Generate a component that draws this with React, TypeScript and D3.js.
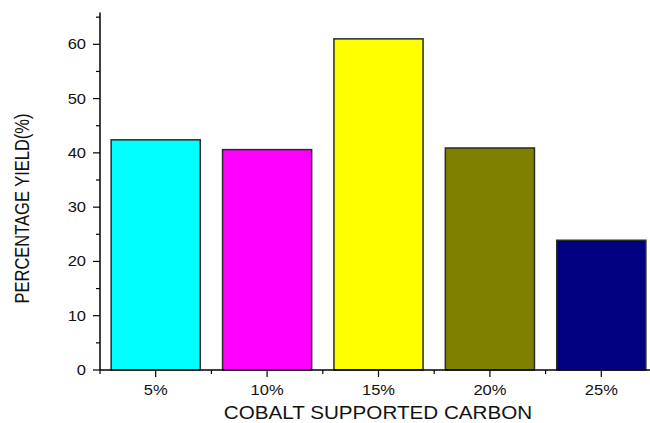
import React from "react";
import * as d3 from "d3";

const categories = ["5%", "10%", "15%", "20%", "25%"];
const values = [42.4, 40.6, 61.0, 40.9, 23.9];
const colors = ["#00FFFF", "#FF00FF", "#FFFF00", "#808000", "#000080"];
const yTicks = [0, 10, 20, 30, 40, 50, 60];
const yMinorTicks = [5, 15, 25, 35, 45, 55, 65];

const W = 650;
const H = 423;
const left = 100;
const bottom = 370;
const SX = 1.18;

export default function App() {
  const x = d3.scaleBand<string>().domain(categories).range([left, left + 5 * 111.4]).paddingInner(0.2).paddingOuter(0.1);
  const y = d3.scaleLinear().domain([0, 60]).range([bottom, 44.3]);
  const step = x.step();
  const font = "Arial, 'Liberation Sans', sans-serif";
  const minorX = d3.range(categories.length + 1).map((i) => left + i * step);
  return (
    <svg width={W} height={H} style={{ position: "absolute", left: 0, top: 0, background: "#fff" }}>
      {categories.map((c, i) => (
        <rect key={c} x={x(c)} y={y(values[i])} width={x.bandwidth()} height={bottom - y(values[i])}
          fill={colors[i]} stroke="#2b2b2b" strokeWidth={1.5} />
      ))}
      {/* y axis */}
      <line x1={left} x2={left} y1={12.5} y2={bottom} stroke="#000" strokeWidth={1.5} />
      {yTicks.map((t) => (
        <g key={t}>
          <line x1={left - 7} x2={left} y1={y(t)} y2={y(t)} stroke="#000" strokeWidth={1.2} />
          <g transform={`translate(${left - 14},${y(t)}) scale(${SX},1)`}>
            <text x={0} y={0} dy="0.36em" textAnchor="end" fontFamily={font} fontSize={14} fill="#111">{t}</text>
          </g>
        </g>
      ))}
      {yMinorTicks.map((t) => (
        <line key={t} x1={left - 4} x2={left} y1={y(t)} y2={y(t)} stroke="#000" strokeWidth={1.2} />
      ))}
      {/* x axis */}
      <line x1={left} x2={W} y1={bottom} y2={bottom} stroke="#000" strokeWidth={1.5} />
      {categories.map((c) => {
        const cx = (x(c) as number) + x.bandwidth() / 2;
        return (
          <g key={c}>
            <line x1={cx} x2={cx} y1={bottom} y2={bottom + 7} stroke="#000" strokeWidth={1.2} />
            <g transform={`translate(${cx},${bottom + 25}) scale(${SX},1)`}>
              <text x={0} y={0} textAnchor="middle" fontFamily={font} fontSize={14} fill="#111">{c}</text>
            </g>
          </g>
        );
      })}
      {minorX.map((mx, i) => (
        <line key={i} x1={mx} x2={mx} y1={bottom} y2={bottom + 4} stroke="#000" strokeWidth={1.2} />
      ))}
      <g transform={`translate(378,419) scale(${SX},1)`}>
        <text x={0} y={0} textAnchor="middle" fontFamily={font} fontSize={17.5} fill="#111">COBALT SUPPORTED CARBON</text>
      </g>
      <g transform={`translate(28.5,208.5) scale(1.2,1) rotate(-90)`}>
        <text x={0} y={0} textAnchor="middle" fontFamily={font} fontSize={16.5} fill="#111">PERCENTAGE YIELD(%)</text>
      </g>
    </svg>
  );
}
